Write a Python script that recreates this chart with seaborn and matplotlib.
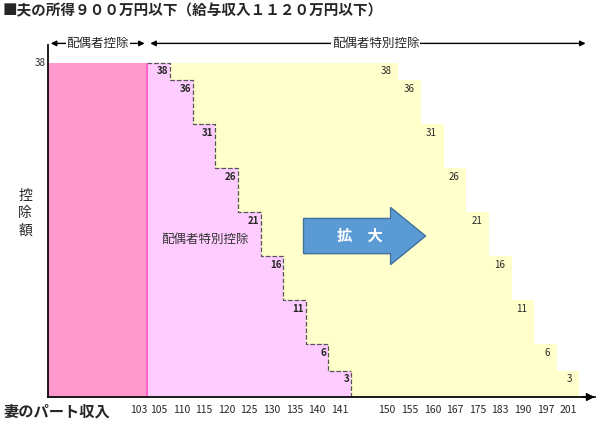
import numpy as np
import matplotlib.pyplot as plt
import seaborn as sns
from matplotlib.patches import FancyArrow

sns.set_theme(style="white")
plt.rcParams['font.family'] = ['Noto Sans CJK JP', 'DejaVu Sans']

# deduction amounts (万円) per income bracket
amounts = [38, 36, 31, 26, 21, 16, 11, 6, 3]
old_labels = ['105', '110', '115', '120', '125', '130', '135', '140', '141']
new_labels = ['150', '155', '160', '167', '175', '183', '190', '197', '201']
base_label = '103'

red_end = 4.4
old_start = red_end
new_start = 14.5

fig = plt.figure(figsize=(6, 4.26), dpi=100)
ax = fig.add_axes([0.08, 0.068, 0.912, 0.826])

# new system (yellow)
nx = [old_start] + [new_start + i for i in range(1, len(amounts) + 1)]
ny = amounts + [amounts[-1]]
ax.fill_between(nx, ny, step='post', color='#FFFFCC', lw=0)
# old system (pink)
ox = [old_start + i for i in range(len(amounts) + 1)]
ax.fill_between(ox, ny, step='post', color='#FFCCFF', lw=0)
ax.step(ox, ny, where='post', color='#555555', ls='--', lw=0.9)
ax.vlines(ox[-1], 0, amounts[-1], color='#555555', ls='--', lw=0.9)
# spouse deduction block
ax.fill_between([0, red_end], [38, 38], color='#FF99CC', lw=0)
ax.vlines(red_end, 0, 38, color='#FF66CC', lw=1.5)

for i, a in enumerate(amounts):
    ax.text(old_start + i + 0.92, a - 0.4, str(a), ha='right', va='top', fontsize=7, fontweight='bold')
    xr = new_start + i + 1
    ax.text(xr - 0.3, a - 0.4, str(a), ha='right', va='top', fontsize=7)

ax.set_xlim(0, 24.2)
ax.set_ylim(0, 40)
ax.set_xticks([])
ax.set_yticks([])
for s in ['top', 'right']:
    ax.spines[s].set_visible(False)
ax.spines['left'].set_color('black')
ax.spines['bottom'].set_color('black')
ax.annotate('', xy=(24.3, 0), xytext=(23.5, 0),
            arrowprops=dict(arrowstyle='-|>', color='black', lw=1), annotation_clip=False)
ax.text(-0.1, 38, '38', ha='right', va='center', fontsize=7)

# x labels
ty = -0.9
ax.text(red_end - 0.4, ty, base_label, ha='center', va='top', fontsize=7.5)
for i, l in enumerate(old_labels):
    ax.text(old_start + i + 0.5, ty, l, ha='center', va='top', fontsize=7.5)
for i, l in enumerate(new_labels):
    ax.text(new_start + i + 0.5, ty, l, ha='center', va='top', fontsize=7.5)
fig.text(0.005, 0.035, '妻のパート収入', fontsize=11, fontweight='bold', va='center')
fig.text(0.042, 0.5, '控\n除\n額', fontsize=10, ha='center', va='center', linespacing=1.3)

ax.text(6.95, 17.9, '配偶者特別控除', ha='center', va='center', fontsize=9, color='#333333')
ax.add_patch(FancyArrow(11.3, 18.3, 5.4, 0, width=4.0, head_width=6.5, head_length=1.55,
                        length_includes_head=True, color='#5B9BD5', ec='#41719C', lw=1))
ax.text(13.8, 18.3, '拡　大', ha='center', va='center', fontsize=11, color='white', fontweight='bold')

# top range arrows
ay = 40.2
ax.annotate('', xy=(0, ay), xytext=(red_end, ay), annotation_clip=False,
            arrowprops=dict(arrowstyle='<|-|>', color='black', lw=1, mutation_scale=8))
ax.annotate('', xy=(red_end, ay), xytext=(23.9, ay), annotation_clip=False,
            arrowprops=dict(arrowstyle='<|-|>', color='black', lw=1, mutation_scale=8))
ax.text(red_end / 2, ay, '配偶者控除', ha='center', va='center', fontsize=9,
        bbox=dict(fc='white', ec='none', pad=0.5))
ax.text(14.5, ay, '配偶者特別控除', ha='center', va='center', fontsize=9,
        bbox=dict(fc='white', ec='none', pad=0.5))

fig.text(0.005, 0.975, '■夫の所得９００万円以下（給与収入１１２０万円以下）', fontsize=10.5,
         fontweight='bold', va='center')

fig.savefig('out.png', dpi=100)
